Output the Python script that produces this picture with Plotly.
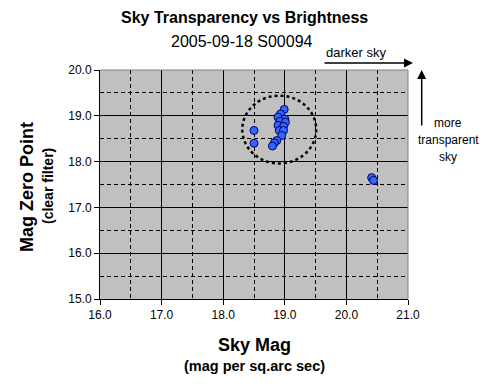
import plotly.graph_objects as go

# Data
sky_mag = [18.50, 18.50, 18.99, 18.93, 18.89, 19.00, 18.92, 19.01, 18.89, 18.98,
           18.91, 18.98, 18.95, 18.87, 18.83, 18.80, 20.41, 20.44]
zero_point = [18.68, 18.40, 19.14, 19.04, 18.97, 18.93, 18.88, 18.86, 18.79, 18.77,
              18.68, 18.68, 18.57, 18.46, 18.41, 18.34, 17.65, 17.59]

x_ticks = [16, 17, 18, 19, 20, 21]
y_ticks = [15, 16, 17, 18, 19, 20]

FONT = "Arial, Liberation Sans, sans-serif"

fig = go.Figure()
fig.add_trace(go.Scatter(
    x=sky_mag, y=zero_point, mode="markers",
    marker=dict(symbol="circle", size=8, color="#3366FF",
                line=dict(color="#000066", width=1)),
    hoverinfo="x+y", showlegend=False,
))

# Dotted ellipse around the main cluster
fig.add_shape(type="circle", xref="x", yref="y",
              x0=18.31, x1=19.51, y0=17.96, y1=19.44,
              line=dict(color="black", width=2.5, dash="dot"), layer="between")

# Gray top/right border of plot area
fig.add_shape(type="line", xref="paper", yref="paper", x0=0, x1=1, y0=1, y1=1,
              line=dict(color="#808080", width=1))
fig.add_shape(type="line", xref="paper", yref="paper", x0=1, x1=1, y0=0, y1=1,
              line=dict(color="#808080", width=1))

axis_common = dict(
    showline=True, linecolor="black", linewidth=1,
    ticks="outside", ticklen=5, tickcolor="black",
    showgrid=True, gridcolor="black", gridwidth=1,
    zeroline=False, tickformat=".1f",
    tickfont=dict(family=FONT, size=12, color="black"),
    minor=dict(dtick=0.5, showgrid=True, gridcolor="black", gridwidth=1,
               griddash="4px,3px", ticks=""),
)

# page has an 8px body margin; compensate so plot area sits at x 100..408, y 70..299
fig.update_layout(
    width=480, height=383,
    margin=dict(l=92, r=80, t=62, b=92),
    paper_bgcolor="white", plot_bgcolor="#C0C0C0",
    font=dict(family=FONT, color="black"),
    xaxis=dict(range=[16, 21], tickvals=x_ticks, **axis_common),
    yaxis=dict(range=[15, 20], tickvals=y_ticks, **axis_common),
)

def ann(text, x, y, size, bold=False, angle=0):
    t = f"<b>{text}</b>" if bold else text
    fig.add_annotation(text=t, xref="paper", yref="paper",
                       x=(x - 100) / 308, y=(299 - y) / 229,
                       xanchor="center", yanchor="middle", showarrow=False,
                       textangle=angle, font=dict(family=FONT, size=size, color="black"))

ann("Sky Transparency vs Brightness", 244, 17, 16, bold=True)
ann("2005-09-18 S00094", 242, 41, 16)
ann("Sky Mag", 254, 345, 18, bold=True)
ann("(mag per sq.arc sec)", 254, 366, 14.5, bold=True)
ann("Mag Zero Point", 27, 187, 18, bold=True, angle=-90)
ann("(clear filter)", 48, 186, 14, bold=True, angle=-90)
ann("darker sky", 356, 53, 13)
ann("more", 448, 123, 12)
ann("transparent", 448, 140, 12)
ann("sky", 448, 157, 12)

# Arrows
fig.add_annotation(xref="paper", yref="paper", x=(413 - 100) / 308, y=(299 - 63) / 229,
                   ax=-90, ay=0, text="", showarrow=True, arrowhead=2, arrowsize=1.2,
                   arrowwidth=1.5, arrowcolor="black")
fig.add_annotation(xref="paper", yref="paper", x=(421.7 - 100) / 308, y=(299 - 70) / 229,
                   ax=0, ay=57, text="", showarrow=True, arrowhead=2, arrowsize=1.2,
                   arrowwidth=1.5, arrowcolor="black")

fig.write_html("out.html")
